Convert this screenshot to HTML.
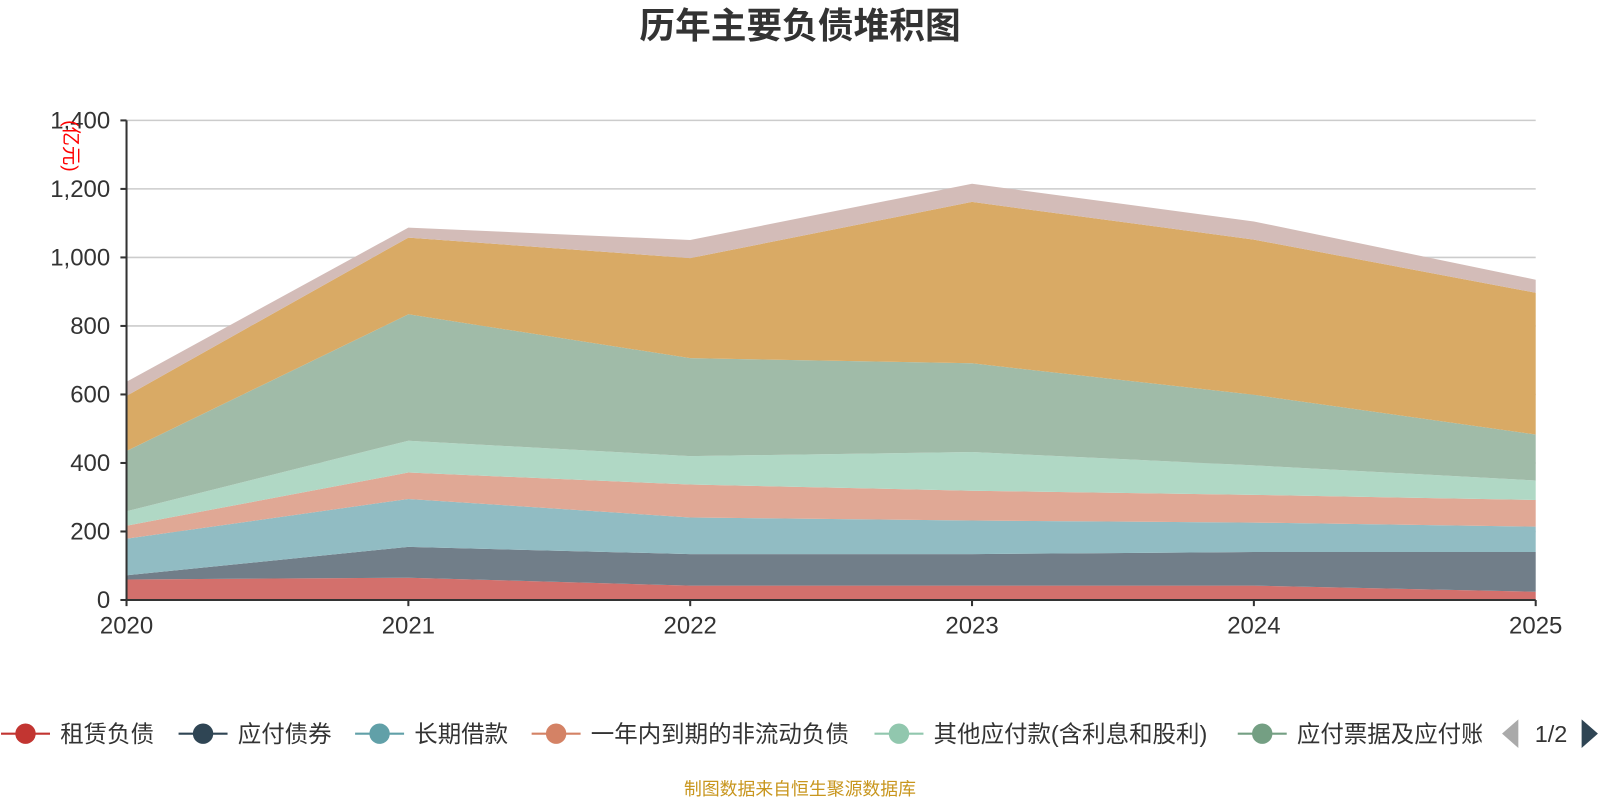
<!DOCTYPE html>
<html><head><meta charset="utf-8"><style>
body{margin:0;background:#fff;width:1600px;height:800px;overflow:hidden;font-family:"Liberation Sans","Noto Sans CJK SC",sans-serif}
</style></head><body>
<svg width="1600" height="800" style="font-family:'Liberation Sans','Noto Sans CJK SC',sans-serif">
<defs><clipPath id="lc"><rect x="0" y="690" width="1452" height="60"/></clipPath></defs>
<g transform="scale(1.0204)">
<text x="784" y="37" text-anchor="middle" font-size="35" font-weight="bold" fill="#333">历年主要负债堆积图</text>
<g id="grid"></g><g id="areas"></g><g id="axes"></g><g id="legend" clip-path="url(#lc)"></g><g id="pager"></g>
<text x="63" y="143" font-size="19" fill="red" transform="rotate(90 63 143)" text-anchor="middle">(亿元)</text>
<text x="784" y="779" text-anchor="middle" font-size="17.5" fill="#c8961e">制图数据来自恒生聚源数据库</text>
</g>
</svg>
<script>
const years=['2020','2021','2022','2023','2024','2025'];
const names=['租赁负债','应付债券','长期借款','一年内到期的非流动负债','其他应付款(含利息和股利)','应付票据及应付账款','应付账款','其他'];
const s0=[60,65,42,42,42,24];
const s1=[12,90,92,92,98,116];
const s2=[107,140,107,98,86,74];
const s3=[38,77,96,87,81,78];
const s4=[42,93,83,113,86,57];
const s5=[176,369,286,259,206,134];
const s6=[161,224,292,471,453,414];
const s7=[41,29,53,53,53,38];
const series=[s0,s1,s2,s3,s4,s5,s6,s7];
const yTicks=[0,200,400,600,800,1000,1200,1400];
const fills=['#d3706c','#717e89','#91bcc3','#e0a895','#b0d8c5','#a0bba8','#d9aa65','#d3bcb8'];
const lcol=['#c23531','#2f4554','#61a0a8','#d48265','#91c7ae','#749f83'];
const NS='http://www.w3.org/2000/svg';
const X0=124,X1=1505,Y0=588,Y1=118;
const xs=i=>X0+(X1-X0)*i/(years.length-1);
const ys=v=>Y0-(Y0-Y1)*v/1400;
function mk(t,a,p){const e=document.createElementNS(NS,t);for(const k in a)e.setAttribute(k,a[k]);p.appendChild(e);return e;}
const grid=document.getElementById('grid'),axes=document.getElementById('axes'),areas=document.getElementById('areas'),leg=document.getElementById('legend');
yTicks.forEach(v=>{
 if(v>0){const l=mk('line',{x1:X0,x2:X1,y1:ys(v),y2:ys(v),stroke:'#ccc','stroke-width':1.5},grid);
 
 }
 const t=mk('text',{x:X0-16,y:ys(v)+8,'text-anchor':'end','font-size':23.5,fill:'#333'},axes);t.textContent=v.toLocaleString('en-US');
 
 
 mk('line',{x1:X0-6,x2:X0,y1:ys(v),y2:ys(v),stroke:'#333','stroke-width':2},axes);
});
let base=years.map(()=>0);
series.forEach((s,k)=>{
 const top=base.map((b,i)=>b+s[i]);
 let d='M'+top.map((v,i)=>xs(i)+','+ys(v)).join('L');
 for(let i=years.length-1;i>=0;i--)d+='L'+xs(i)+','+ys(base[i]);
 const p=mk('path',{d:d+'Z',fill:fills[k]},areas);
 
 
 base=top;
});
mk('line',{x1:X0,x2:X0,y1:Y1,y2:Y0,stroke:'#333','stroke-width':2},axes);
mk('line',{x1:X0,x2:X1,y1:Y0,y2:Y0,stroke:'#333','stroke-width':2},axes);
years.forEach((y,i)=>{
 mk('line',{x1:xs(i),x2:xs(i),y1:Y0,y2:Y0+6,stroke:'#333','stroke-width':2},axes);
 const t=mk('text',{x:xs(i),y:621,'text-anchor':'middle','font-size':23.5,fill:'#333'},axes);t.textContent=y;
 
 
});
const lx=[25,199,372,545,881,1237];
lx.forEach((x,k)=>{
 const g=mk('g',{},leg);
 
 
 mk('line',{x1:x-24,x2:x+24,y1:719,y2:719,stroke:lcol[k],'stroke-width':2},g);
 mk('circle',{cx:x,cy:719,r:10,fill:lcol[k]},g);
 const t=mk('text',{x:x+34,y:727,'font-size':23,fill:'#333'},g);t.textContent=names[k];
});
document.getElementById('pager').innerHTML='<polygon points="1472,719 1488,705 1488,733" fill="#aaa"/><text x="1520" y="727" font-size="23" text-anchor="middle" fill="#333">1/2</text><polygon points="1550,705 1566,719 1550,733" fill="#2f4554"/>';
</script>
</body></html>
